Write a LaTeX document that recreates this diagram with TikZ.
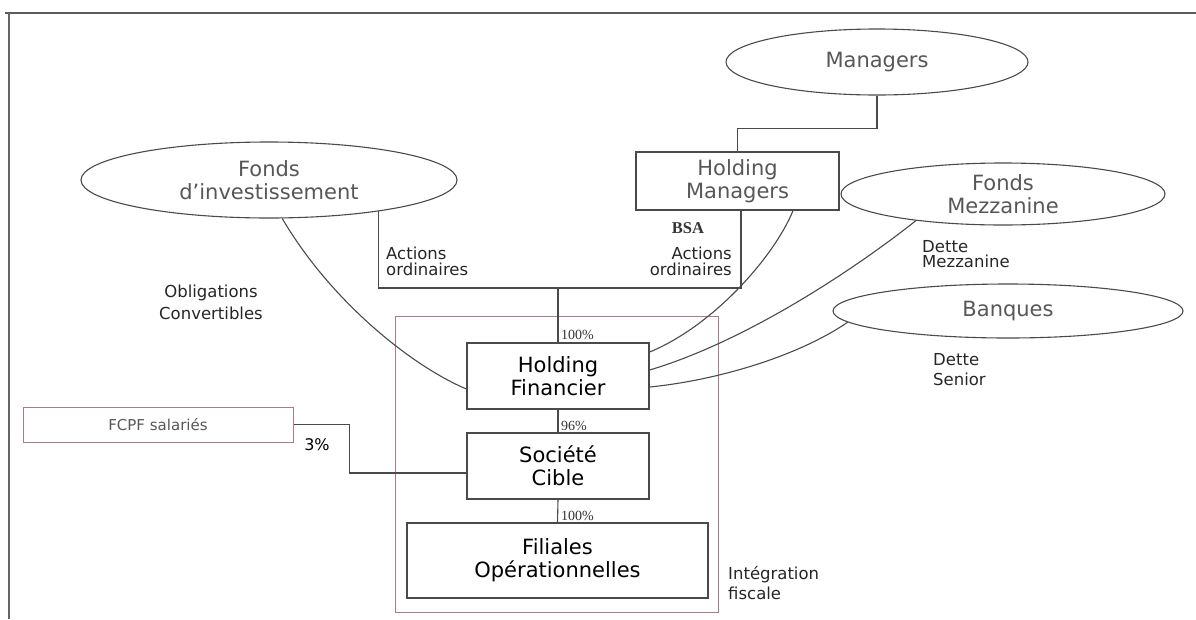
\documentclass[tikz,border=0pt]{standalone}
\usepackage{fontspec}
\setmainfont{DejaVu Sans}
\newfontfamily\pctfont{Liberation Serif}
\usetikzlibrary{shapes.geometric,calc}
\definecolor{linegray}{HTML}{4A4A4A}
\definecolor{textgray}{HTML}{575757}
\definecolor{rosebox}{HTML}{A97A8C}

\begin{document}
\begin{tikzpicture}[x=1pt,y=-1pt,
  party/.style={ellipse, draw=linegray, line width=1.1pt, inner sep=0pt,
    text=textgray, font=\fontsize{21}{23}\selectfont, align=center},
  entity/.style={rectangle, draw=linegray, line width=1.3pt, inner sep=0pt,
    font=\fontsize{21}{23}\selectfont, align=center},
  link/.style={draw=linegray, line width=1.1pt},
  lbl/.style={font=\fontsize{16.5}{16}\selectfont, text=black!85, inner sep=0pt},
  pct/.style={font=\pctfont\fontsize{14}{14}\selectfont, text=black!80,
    inner sep=0pt, anchor=west},
]
\useasboundingbox (0,0) rectangle (1196,619);

% page frame
\draw[linegray!90, line width=2.2pt] (5,13) -- (1196,13);
\draw[linegray!85, line width=1.5pt] (9,13) -- (9,619);

% tax consolidation perimeter
\draw[rosebox, line width=0.9pt] (395,316) rectangle (718,612);

% investors
\node[party, minimum width=302, minimum height=66] (mg) at (877,62) {Managers};
\node[party, minimum width=376, minimum height=76] (fi) at (269,180) {Fonds\\d’investissement};
\node[party, minimum width=324, minimum height=62] (fm) at (1003,194) {Fonds\\Mezzanine};
\node[party, minimum width=350, minimum height=54] (bq) at (1008,311) {Banques};

% companies
\node[entity, text=textgray, minimum width=203, minimum height=58] (hm) at (737.5,181) {Holding\\Managers};
\node[entity, minimum width=182, minimum height=66] (hf) at (558,376) {Holding\\Financier};
\node[entity, minimum width=182, minimum height=66] (sc) at (558,466) {Société\\Cible};
\node[entity, minimum width=301, minimum height=75] (fil) at (557.5,560.5) {Filiales\\Opérationnelles};
\node[rectangle, draw=rosebox, line width=1pt, minimum width=270, minimum height=35,
  inner sep=0pt, text=textgray, font=\fontsize{15}{15}\selectfont] (fc) at (158,424.5) {FCPF salariés};

% ownership links
\coordinate (jn) at (558,288);
\draw[link] (mg.south) -- ++(0,33) -| (hm.north);
\draw[link] (fi.-16.3) |- (jn) -| ($(hm.south)+(3.5,0)$);
\draw[link] (jn) -- (hf.north);
\draw[link] (hf.south) -- (sc.north);
\draw[link] (sc.south) -- (fil.north);
\draw[link] (fi.-71) .. controls (330,300) and (410,365) .. ($(hf.west)+(0,13)$);
\draw[link] ($(hm.south)+(55.5,0)$) .. controls (775,255) and (715,325) .. ($(hf.east)+(0,-24)$);
\draw[link] (fm.-163) .. controls (860,265) and (750,340) .. ($(hf.east)+(0,-6)$);
\draw[link] (bq.-176) .. controls (800,355) and (720,380) .. ($(hf.east)+(0,11)$);
\draw[link] (fc.east) -- ++(56,0) |- ($(sc.west)+(0,7)$);

% instruments
\node[lbl, align=left, anchor=west] (ao1) at (386,261) {Actions\\ordinaires};
\node[lbl, align=right, anchor=east] (ao2) at (732,261) {Actions\\ordinaires};
\node[font=\pctfont\bfseries\fontsize{16.5}{16}\selectfont, text=black!80, inner sep=0pt] (bsa) at (688,228) {BSA};
\node[lbl, align=center, font=\fontsize{16.5}{22}\selectfont] (oc) at (211,302) {Obligations\\Convertibles};
\node[lbl, align=left, anchor=west, font=\fontsize{16.5}{15}\selectfont] (dm) at (922,254.5) {Dette\\Mezzanine};
\node[lbl, align=left, anchor=west, font=\fontsize{16.5}{20}\selectfont] (ds) at (933,370) {Dette\\Senior};
\node[lbl, align=left, anchor=west, font=\fontsize{16.5}{20}\selectfont] (ig) at (728,583) {Intégration\\fiscale};
\node[font=\fontsize{16}{16}\selectfont, inner sep=0pt] (p3) at (317,445) {3\%};

% percentages
\node[pct] (p1) at (561,335) {100\%};
\node[pct] (p2) at (561,426) {96\%};
\node[pct] (p4) at (561,516) {100\%};
\end{tikzpicture}
\end{document}
